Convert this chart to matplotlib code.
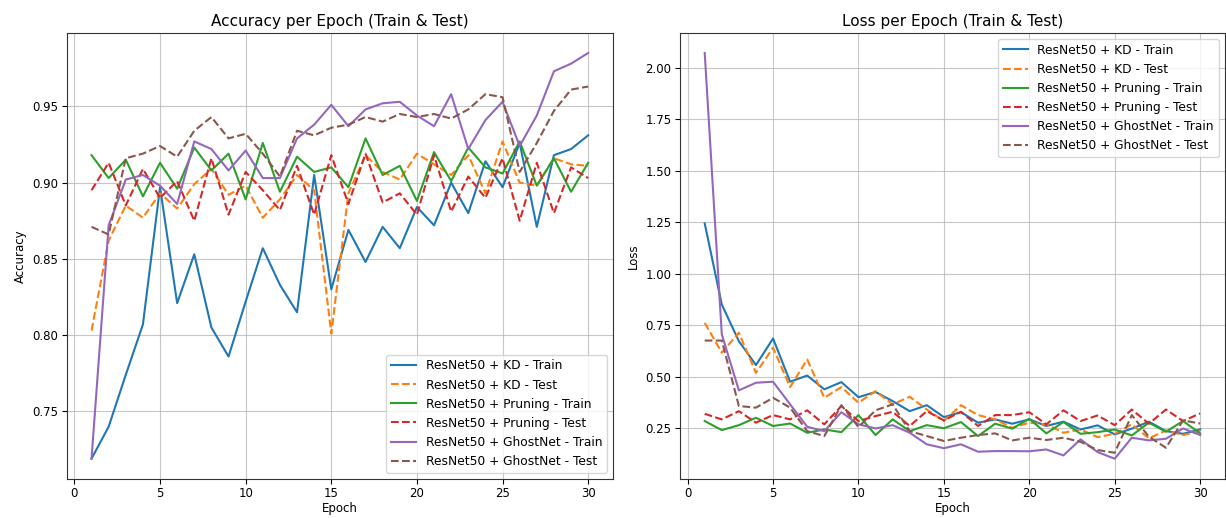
import numpy as np
import matplotlib.pyplot as plt

epochs = list(range(1, 31))

# accuracy per epoch
kd_train_acc = [0.719, 0.740, 0.774, 0.807, 0.897, 0.821, 0.853, 0.805, 0.786, 0.822,
                0.857, 0.833, 0.815, 0.905, 0.830, 0.869, 0.848, 0.871, 0.857, 0.884,
                0.872, 0.900, 0.880, 0.914, 0.897, 0.926, 0.871, 0.918, 0.922, 0.931]
kd_test_acc = [0.803, 0.862, 0.885, 0.877, 0.893, 0.883, 0.899, 0.909, 0.892, 0.898,
               0.877, 0.889, 0.905, 0.895, 0.801, 0.893, 0.918, 0.907, 0.902, 0.919,
               0.912, 0.905, 0.918, 0.893, 0.927, 0.900, 0.898, 0.916, 0.912, 0.911]
pr_train_acc = [0.918, 0.903, 0.915, 0.891, 0.913, 0.896, 0.923, 0.908, 0.919, 0.889,
                0.926, 0.894, 0.917, 0.907, 0.910, 0.897, 0.929, 0.905, 0.911, 0.888,
                0.920, 0.901, 0.923, 0.910, 0.906, 0.927, 0.898, 0.916, 0.894, 0.913]
pr_test_acc = [0.895, 0.913, 0.885, 0.909, 0.890, 0.901, 0.875, 0.916, 0.879, 0.907,
               0.895, 0.882, 0.911, 0.879, 0.918, 0.886, 0.919, 0.887, 0.893, 0.879,
               0.918, 0.881, 0.904, 0.890, 0.916, 0.875, 0.913, 0.880, 0.910, 0.903]
gh_train_acc = [0.719, 0.872, 0.902, 0.905, 0.898, 0.886, 0.927, 0.922, 0.908, 0.921,
                0.903, 0.903, 0.929, 0.938, 0.951, 0.937, 0.948, 0.952, 0.953, 0.944,
                0.937, 0.958, 0.922, 0.941, 0.953, 0.924, 0.944, 0.973, 0.978, 0.985]
gh_test_acc = [0.871, 0.866, 0.916, 0.919, 0.924, 0.917, 0.934, 0.943, 0.929, 0.932,
               0.919, 0.904, 0.934, 0.931, 0.936, 0.938, 0.943, 0.940, 0.945, 0.943,
               0.945, 0.942, 0.948, 0.958, 0.956, 0.907, 0.926, 0.947, 0.961, 0.963]

# loss per epoch
kd_train_loss = [1.245, 0.851, 0.673, 0.557, 0.686, 0.476, 0.506, 0.439, 0.474, 0.401,
                 0.426, 0.382, 0.333, 0.362, 0.304, 0.328, 0.277, 0.293, 0.272, 0.293,
                 0.261, 0.282, 0.244, 0.264, 0.220, 0.248, 0.282, 0.236, 0.223, 0.244]
kd_test_loss = [0.762, 0.617, 0.714, 0.519, 0.641, 0.450, 0.584, 0.398, 0.450, 0.374,
                0.430, 0.366, 0.403, 0.341, 0.285, 0.362, 0.314, 0.293, 0.252, 0.277,
                0.269, 0.228, 0.244, 0.207, 0.223, 0.269, 0.201, 0.239, 0.217, 0.236]
pr_train_loss = [0.285, 0.241, 0.265, 0.301, 0.261, 0.273, 0.228, 0.244, 0.231, 0.314,
                 0.217, 0.293, 0.236, 0.265, 0.250, 0.280, 0.212, 0.272, 0.248, 0.296,
                 0.225, 0.280, 0.223, 0.231, 0.244, 0.215, 0.277, 0.233, 0.285, 0.225]
pr_test_loss = [0.320, 0.293, 0.333, 0.277, 0.314, 0.293, 0.337, 0.269, 0.358, 0.285,
                0.309, 0.330, 0.261, 0.333, 0.288, 0.330, 0.261, 0.314, 0.314, 0.328,
                0.269, 0.337, 0.285, 0.312, 0.265, 0.341, 0.272, 0.341, 0.285, 0.322]
gh_train_loss = [2.073, 0.706, 0.434, 0.471, 0.476, 0.366, 0.257, 0.236, 0.328, 0.269,
                 0.249, 0.265, 0.228, 0.172, 0.153, 0.172, 0.136, 0.139, 0.139, 0.138,
                 0.147, 0.118, 0.196, 0.134, 0.102, 0.204, 0.191, 0.199, 0.249, 0.217]
gh_test_loss = [0.676, 0.676, 0.358, 0.350, 0.398, 0.350, 0.236, 0.212, 0.362, 0.256,
                0.337, 0.366, 0.236, 0.212, 0.188, 0.204, 0.217, 0.225, 0.191, 0.204,
                0.193, 0.204, 0.184, 0.144, 0.131, 0.314, 0.209, 0.155, 0.288, 0.273]

labels = ['ResNet50 + KD - Train', 'ResNet50 + KD - Test',
          'ResNet50 + Pruning - Train', 'ResNet50 + Pruning - Test',
          'ResNet50 + GhostNet - Train', 'ResNet50 + GhostNet - Test']
styles = ['-', '--', '-', '--', '-', '--']
colors = ['tab:blue', 'tab:orange', 'tab:green', 'tab:red', 'tab:purple', 'tab:brown']

acc_series = [kd_train_acc, kd_test_acc, pr_train_acc, pr_test_acc, gh_train_acc, gh_test_acc]
loss_series = [kd_train_loss, kd_test_loss, pr_train_loss, pr_test_loss, gh_train_loss, gh_test_loss]

fig = plt.figure(figsize=(12.26, 5.18), dpi=100)
ax1 = fig.add_axes([0.0544, 0.0753, 0.4456, 0.8616])
ax2 = fig.add_axes([0.5546, 0.0753, 0.4445, 0.8616])

for s, lab, ls, c in zip(acc_series, labels, styles, colors):
    ax1.plot(epochs, s, linestyle=ls, color=c, label=lab, linewidth=1.5)
ax1.set_title('Accuracy per Epoch (Train & Test)', fontsize=11, pad=5)
ax1.set_xlabel('Epoch', fontsize=8.5, labelpad=1)
ax1.set_ylabel('Accuracy', fontsize=8.5)
ax1.grid(True, color='#b0b0b0', alpha=0.7)
ax1.legend(loc='lower right', fontsize=8.8)

for s, lab, ls, c in zip(loss_series, labels, styles, colors):
    ax2.plot(epochs, s, linestyle=ls, color=c, label=lab, linewidth=1.5)
ax2.set_title('Loss per Epoch (Train & Test)', fontsize=11, pad=5)
ax2.set_xlabel('Epoch', fontsize=8.5, labelpad=1)
ax2.set_ylabel('Loss', fontsize=8.5)
ax2.grid(True, color='#b0b0b0', alpha=0.7)
ax2.legend(loc='upper right', fontsize=8.8)

for ax in (ax1, ax2):
    ax.tick_params(labelsize=8.5, pad=2.5)
    ax.set_xticks([0, 5, 10, 15, 20, 25, 30])
    for sp in ax.spines.values():
        sp.set_color('#333333')

fig.savefig('out.png', dpi=100)
